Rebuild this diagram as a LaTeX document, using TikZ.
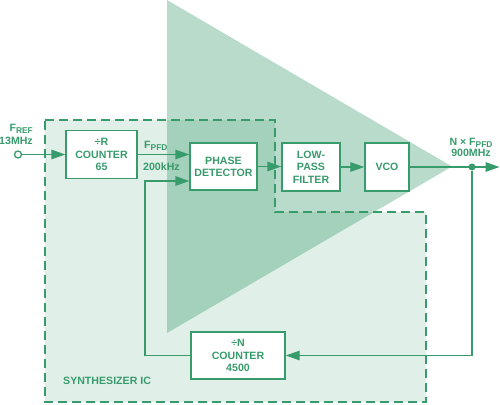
\documentclass[tikz,border=0pt]{standalone}
\usepackage{fontspec}
\setmainfont{Liberation Sans}
\usetikzlibrary{arrows.meta}
\definecolor{adg}{RGB}{56,155,108}
\definecolor{icfill}{RGB}{224,240,232}
\newcommand{\lowsub}[1]{\raisebox{-0.22em}{\fontsize{8.4}{9}\selectfont #1}}
\begin{document}
\begin{tikzpicture}[x=1pt,y=-1pt,
  font=\fontsize{10.6}{12.3}\selectfont\bfseries,
  blk/.style={draw=adg, fill=white, line width=1.4pt, text=adg, align=center, inner sep=0pt},
  wire/.style={draw=adg, line width=1.4pt},
  arr/.style={wire, -{Triangle[length=14pt,width=9.5pt]}},
  lbl/.style={text=adg, inner sep=0pt}]
\useasboundingbox (0,0) rectangle (500,404);
% synthesizer IC region
\fill[icfill] (45,120) -- (275,120) -- (275,212) -- (426,212) -- (426,402) -- (45,402) -- cycle;
% triangle
\fill[adg, fill opacity=0.357] (167,0) -- (452,166.5) -- (167,333) -- cycle;
\draw[adg, line width=1.6pt, dash pattern=on 9pt off 5pt] (45,120) -- (275,120) -- (275,212) -- (426,212) -- (426,402) -- (45,402) -- cycle;
% blocks
\node[blk, minimum width=71pt, minimum height=48pt] (rc) at (101.5,154.5) {÷R\\COUNTER\\65};
\node[blk, minimum width=67pt, minimum height=47pt] (pd) at (223.5,166.5) {PHASE\\DETECTOR};
\node[blk, minimum width=58pt, minimum height=48pt] (lpf) at (311,167) {LOW-\\PASS\\FILTER};
\node[blk, minimum width=44pt, minimum height=48pt] (vco) at (387,167) {VCO};
\node[blk, minimum width=94pt, minimum height=47pt] (nc) at (238,355.5) {÷N\\COUNTER\\4500};
% input
\node[circle, draw=adg, fill=white, line width=1.3pt, inner sep=0pt, minimum size=7pt] (in) at (18,154.5) {};
\draw[arr] (in) -- (rc);
\node[lbl, anchor=base east] (fref) at (33,131) {F\lowsub{REF}};
\node[lbl, anchor=base east] (f13) at (33,144) {13MHz};
% R counter to PD
\draw[arr] (rc.east) -- (rc.east -| pd.west);
\node[lbl, anchor=base west] (fpfd) at (144,148.5) {F\lowsub{PFD}};
\node[lbl, anchor=base west] (f200) at (143,170.5) {200kHz};
% PD -> LPF -> VCO
\draw[arr] (pd.east) -- (pd.east -| lpf.west);
\draw[arr] (lpf) -- (vco);
% output
\coordinate (out) at (499.5,167);
\node[circle, fill=adg, inner sep=0pt, minimum size=7pt] (dot) at (472,167) {};
\draw[arr] (vco.east) -- (out);
\node[lbl, anchor=base] (nf) at (471,145) {N × F\lowsub{PFD}};
\node[lbl, anchor=base] (f900) at (471,156.5) {900MHz};
% feedback
\draw[arr] (dot) |- (nc.east);
\coordinate (fb) at (145,181);
\draw[arr] (nc.west) -| (fb) -- (fb -| pd.west);
% IC label
\node[lbl, anchor=base west] (ic) at (63,384) {SYNTHESIZER IC};
\end{tikzpicture}
\end{document}
